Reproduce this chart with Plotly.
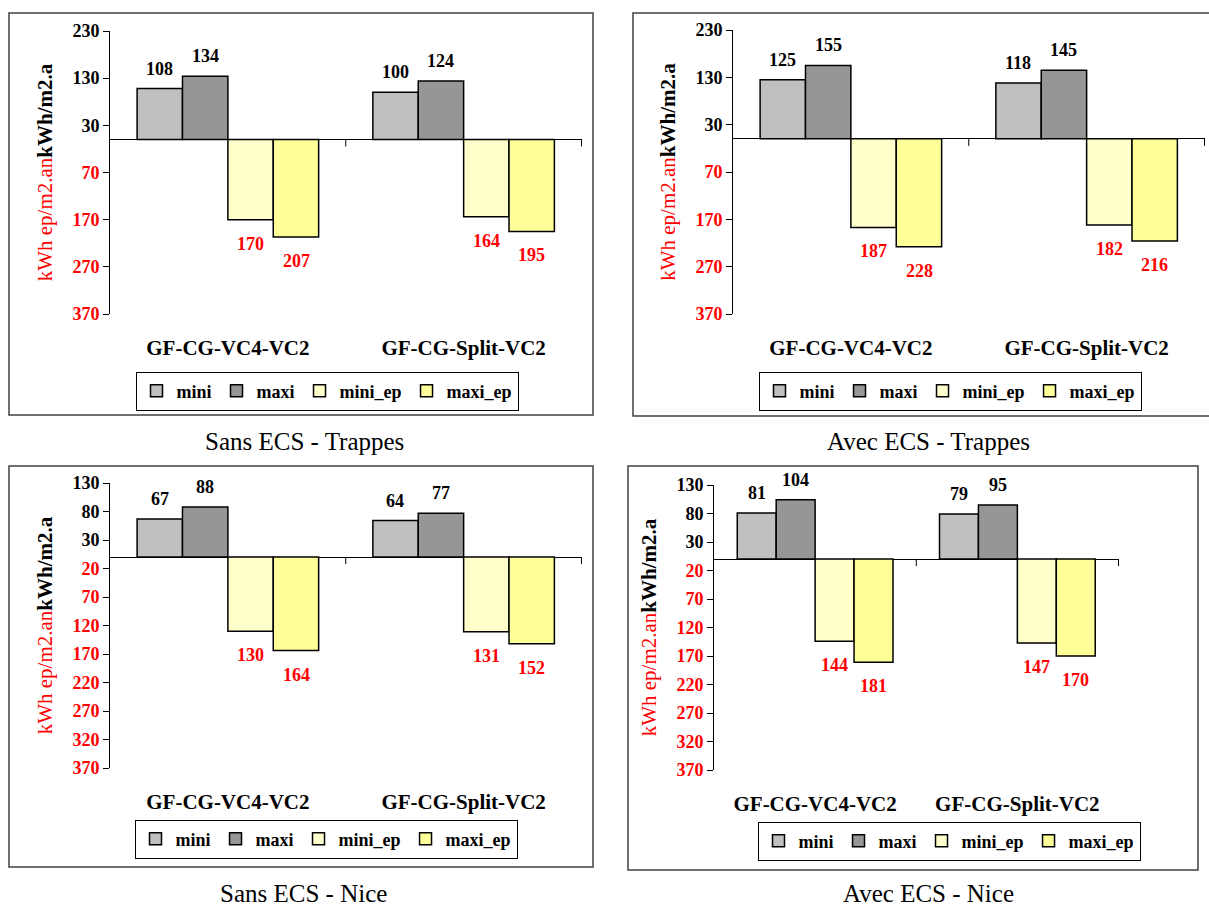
import plotly.graph_objects as go

W, H = 1209, 907
FONT = "Liberation Serif"

# données
categories = ["GF-CG-VC4-VC2", "GF-CG-Split-VC2"]
series_names = ["mini", "maxi", "mini_ep", "maxi_ep"]
series_colors = ["#C0C0C0", "#969696", "#FFFFCC", "#FFFF99"]

trappes_sans_mini = [108, 100]
trappes_sans_maxi = [134, 124]
trappes_sans_mini_ep = [170, 164]
trappes_sans_maxi_ep = [207, 195]

trappes_avec_mini = [125, 118]
trappes_avec_maxi = [155, 145]
trappes_avec_mini_ep = [187, 182]
trappes_avec_maxi_ep = [228, 216]

nice_sans_mini = [67, 64]
nice_sans_maxi = [88, 77]
nice_sans_mini_ep = [130, 131]
nice_sans_maxi_ep = [164, 152]

nice_avec_mini = [81, 79]
nice_avec_maxi = [104, 95]
nice_avec_mini_ep = [144, 147]
nice_avec_maxi_ep = [181, 170]

captions = ["Sans ECS - Trappes", "Avec ECS - Trappes", "Sans ECS - Nice", "Avec ECS - Nice"]

ticks_trappes = [230, 130, 30, -70, -170, -270, -370]
ticks_nice = [130, 80, 30, -20, -70, -120, -170, -220, -270, -320, -370]

y_title = "<span style='color:#FF0000'>kWh ep/m2.an</span><b>kWh/m2.a</b>"


def px_x(p):
    return p / W


def px_y(p):
    return 1 - p / H


# mise en page de chaque panneau (pixels)
panels = [
    dict(series=[trappes_sans_mini, trappes_sans_maxi, trappes_sans_mini_ep, trappes_sans_maxi_ep],
         ticks=ticks_trappes, xd=(110, 582), yd=(31, 314), box=(9, 13, 593, 415),
         cap=(304, 441), leg=(327, 391)),
    dict(series=[trappes_avec_mini, trappes_avec_maxi, trappes_avec_mini_ep, trappes_avec_maxi_ep],
         ticks=ticks_trappes, xd=(733, 1205), yd=(30, 314), box=(633, 13, 1212, 416),
         cap=(928, 441), leg=(950, 391)),
    dict(series=[nice_sans_mini, nice_sans_maxi, nice_sans_mini_ep, nice_sans_maxi_ep],
         ticks=ticks_nice, xd=(110, 582), yd=(483, 768), box=(9, 466, 593, 867),
         cap=(303, 893), leg=(326, 839)),
    dict(series=[nice_avec_mini, nice_avec_maxi, nice_avec_mini_ep, nice_avec_maxi_ep],
         ticks=ticks_nice, xd=(714, 1119), yd=(485, 770), box=(628, 466, 1198, 870),
         cap=(928, 893), leg=(949, 841)),
]

BARGAP = 0.23

fig = go.Figure()
layout = {}
annotations = []
shapes = []

for n, p in enumerate(panels, start=1):
    sfx = "" if n == 1 else str(n)
    leg_name = "legend" if n == 1 else f"legend{n}"

    for j, (name, color, vals) in enumerate(zip(series_names, series_colors, p["series"])):
        sign = -1 if name.endswith("_ep") else 1
        fig.add_trace(go.Bar(
            x=categories,
            y=[sign * v for v in vals],
            name=name,
            marker=dict(color=color, line=dict(color="black", width=1.5)),
            xaxis=f"x{sfx}",
            yaxis=f"y{sfx}",
            legend=leg_name,
            hovertemplate=f"{name}: %{{x}} %{{y}}<extra></extra>",
        ))

        # étiquettes de valeurs
        cat_px = (p["xd"][1] - p["xd"][0]) / len(categories)
        bar_px = cat_px * (1 - BARGAP) / len(series_names)
        for cat, v in zip(categories, vals):
            annotations.append(dict(
                x=cat, y=sign * v, xref=f"x{sfx}", yref=f"y{sfx}",
                xshift=(j - 1.5) * bar_px,
                yshift=8 if sign > 0 else -12,
                yanchor="bottom" if sign > 0 else "top",
                text=str(v), showarrow=False,
                font=dict(family=FONT, size=18, weight="bold",
                          color="black" if sign > 0 else "#FF0000"),
            ))

    ticks = p["ticks"]
    ticktext = [str(t) if t >= 0 else f"<span style='color:#FF0000'>{abs(t)}</span>" for t in ticks]

    layout[f"xaxis{sfx}"] = dict(
        domain=[px_x(p["xd"][0]), px_x(p["xd"][1])],
        anchor=f"y{sfx}", showgrid=False, showline=False, ticks="",
        ticklabelstandoff=19, automargin=False,
        tickfont=dict(family=FONT, size=21, weight="bold", color="black"),
        fixedrange=True,
    )
    layout[f"yaxis{sfx}"] = dict(
        domain=[px_y(p["yd"][1]), px_y(p["yd"][0])],
        anchor=f"x{sfx}", range=[min(ticks), max(ticks)],
        tickmode="array", tickvals=ticks, ticktext=ticktext,
        showgrid=False, showline=True, linecolor="black", linewidth=1,
        ticks="outside", ticklen=6, tickcolor="black",
        zeroline=True, zerolinecolor="black", zerolinewidth=1,
        automargin=False,
        tickfont=dict(family=FONT, size=18, weight="bold", color="black"),
        title=dict(text=y_title, standoff=14, font=dict(family=FONT, size=21, color="black")),
        fixedrange=True,
    )
    layout[leg_name] = dict(
        orientation="h", xanchor="center", yanchor="middle",
        x=px_x(p["leg"][0]), y=px_y(p["leg"][1]),
        bordercolor="black", borderwidth=1, bgcolor="white",
        font=dict(family=FONT, size=18, weight="bold", color="black"),
        itemwidth=30, traceorder="normal",
    )

    # petits traits séparant les catégories sur l'axe zéro
    for k in range(1, len(categories) + 1):
        shapes.append(dict(
            type="line", xref=f"x{sfx}", yref=f"y{sfx}",
            x0=k - 0.5, x1=k - 0.5, ysizemode="pixel", yanchor=0, y0=0, y1=-7,
            line=dict(color="black", width=1),
        ))

    # cadre du panneau
    x0, y0, x1, y1 = p["box"]
    shapes.append(dict(
        type="rect", xref="paper", yref="paper",
        x0=px_x(x0), x1=px_x(x1), y0=px_y(y1), y1=px_y(y0),
        line=dict(color="#404040", width=1.5), layer="below",
    ))

    annotations.append(dict(
        x=px_x(p["cap"][0]), y=px_y(p["cap"][1]), xref="paper", yref="paper",
        xanchor="center", yanchor="middle", showarrow=False,
        text=captions[n - 1], font=dict(family=FONT, size=25, color="black"),
    ))

fig.update_layout(
    template="none",
    width=W, height=H,
    margin=dict(l=0, r=0, t=0, b=0),
    paper_bgcolor="white", plot_bgcolor="white",
    barmode="group", bargap=BARGAP, bargroupgap=0,
    annotations=annotations, shapes=shapes,
    font=dict(family=FONT, color="black"),
    **layout,
)

fig.write_html("out.html", config={"displayModeBar": False},
               post_script="document.body.style.margin='0';")
